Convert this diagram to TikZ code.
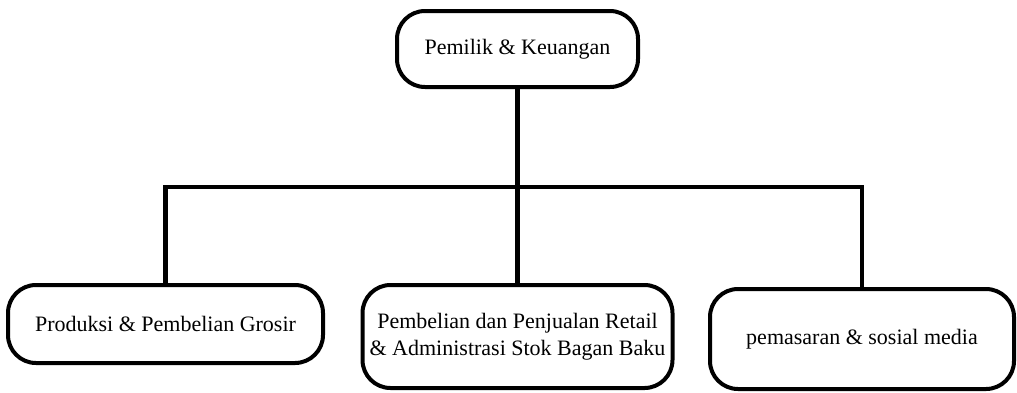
\documentclass[tikz,border=0pt]{standalone}
\usepackage{fontspec}
\setmainfont{Liberation Serif}
\usepackage{tikz}
\usetikzlibrary{positioning}
\usetikzlibrary{calc}

\begin{document}
\begin{tikzpicture}[x=1pt, y=-1pt,
    unit/.style={draw, line width=4pt, rounded corners=28pt, align=center, inner sep=0pt,
        font=\fontsize{22}{27}\selectfont}]
    \useasboundingbox (0,0) rectangle (1017,392);

    \node[unit, minimum width=241pt, minimum height=76pt] at (517.5,49) (owner) {Pemilik \& Keuangan};
    \node[unit, minimum width=315pt, minimum height=78pt] at (165.5,324) (prod) {Produksi \& Pembelian Grosir};
    \node[unit, minimum width=310pt, minimum height=103pt] at (517.5,336.5) (retail) {Pembelian dan Penjualan Retail\\\& Administrasi Stok Bagan Baku};
    \node[unit, minimum width=304pt, minimum height=100pt] at (862,339) (media) {pemasaran \& sosial media};

    \coordinate (bus) at (517.5,187);

    \draw[line width=4.5pt] (owner.south) -- (retail.north);
    \draw[line width=4.5pt] (prod.north) |- (bus) -| (media.north);
\end{tikzpicture}
\end{document}
